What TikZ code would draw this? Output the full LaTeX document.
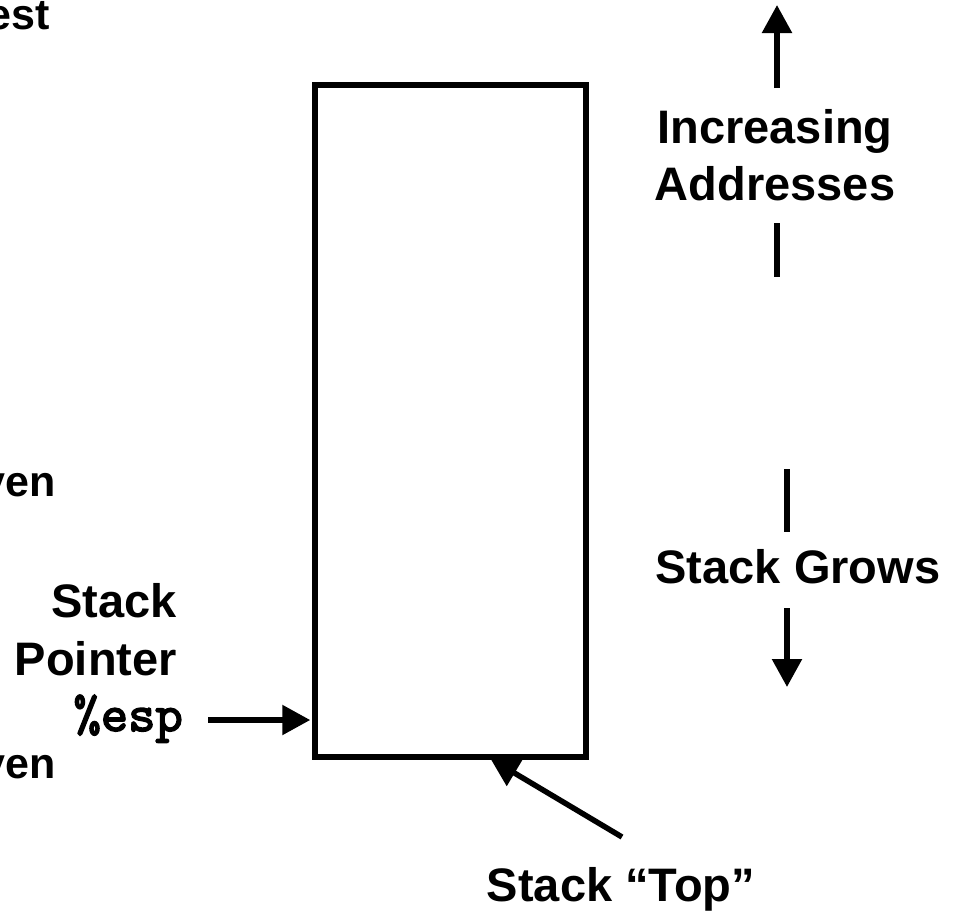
\documentclass[tikz,border=0pt]{standalone}
\usepackage{fontspec}
\setmainfont{Liberation Sans}
\newfontfamily\codefont{lmmono10-regular}[Extension=.otf, FakeBold=3]
\usetikzlibrary{arrows.meta}
\begin{document}
\begin{tikzpicture}[x=1pt,y=-1pt,
  lbl/.style={font=\fontsize{47}{57}\selectfont\bfseries, inner sep=0pt, anchor=base},
  lblr/.style={lbl, anchor=base east},
  frag/.style={font=\fontsize{43}{49}\selectfont\bfseries, inner sep=0pt, anchor=base east},
  code/.style={font=\fontsize{52}{57}\selectfont\codefont, inner sep=0pt, anchor=base east},
  bar/.style={line width=5.5pt},
  arr/.style={line width=5.5pt, -{Triangle[length=28pt,width=29pt]}},
]
\useasboundingbox (0,0) rectangle (956,914);
\clip (0,0) rectangle (956,914);

% the stack region
\node[draw, line width=5.5pt, minimum width=271pt, minimum height=672pt, inner sep=0pt] (stack) at (450.5,421) {};

% labels running off the left edge
\node[frag] (lblA) at (50,29) {est};
\node[frag] (lblB) at (56,496) {ven};
\node[frag] (lblC) at (56,778) {ven};

% stack pointer
\node[lblr] (sp1) at (177,617) {Stack};
\node[lblr] (sp2) at (177,675) {Pointer};
\node[code] (esp) at (183,731) {\%esp};
\coordinate (espTail) at (208,720);
\draw[arr] (espTail) -- ([xshift=-2pt]stack.west |- espTail);

% stack top
\node[lbl] (topLbl) at (621,901) {Stack “Top”};
\coordinate (topTail) at (622,837);
\coordinate (topTip) at ([xshift=40pt,yshift=1pt]stack.south);
\draw[arr] (topTail) -- (topTip);

% increasing addresses
\node[lbl] (inc1) at (775,143) {Increasing};
\node[lbl] (inc2) at (775,200) {Addresses};
\coordinate (incUpA) at (777,88);
\coordinate (incUpB) at (777,5);
\draw[arr] (incUpA) -- (incUpB);
\coordinate (incLoA) at (777,223);
\coordinate (incLoB) at (777,277);
\draw[bar] (incLoA) -- (incLoB);

% stack grows down
\node[lbl] (grows) at (798,583) {Stack Grows};
\coordinate (grUpA) at (787,469);
\coordinate (grUpB) at (787,532);
\draw[bar] (grUpA) -- (grUpB);
\coordinate (grDnA) at (787,608);
\coordinate (grDnB) at (787,687);
\draw[arr] (grDnA) -- (grDnB);
\end{tikzpicture}
\end{document}
